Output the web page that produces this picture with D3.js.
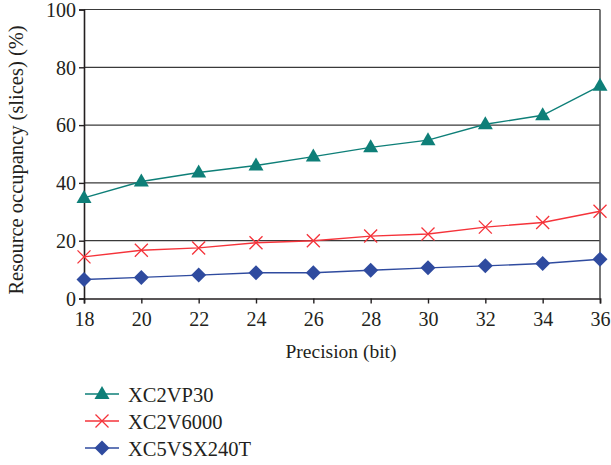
<!DOCTYPE html>
<html>
<head>
<meta charset="utf-8">
<script src="https://cdn.jsdelivr.net/npm/d3@7"></script>
<style>
  body { margin: 0; background: #fff; }
  svg { display: block; }
</style>
</head>
<body>
<svg id="chart" width="611" height="465"></svg>
<script>
// Precision (bit) on the x axis
const precision = [18, 20, 22, 24, 26, 28, 30, 32, 34, 36];

// Slice occupancy (%) per device
const xc2vp30 = [34.8, 40.5, 43.6, 46.0, 49.1, 52.3, 54.8, 60.3, 63.4, 73.6];
const xc2v6000 = [14.4, 16.7, 17.5, 19.3, 20.0, 21.6, 22.3, 24.7, 26.3, 30.2];
const xc5vsx240t = [6.6, 7.3, 8.1, 8.9, 8.9, 9.8, 10.6, 11.3, 12.1, 13.6];

const xTicks = [18, 20, 22, 24, 26, 28, 30, 32, 34, 36];
const yTicks = [0, 20, 40, 60, 80, 100];

const seriesNames = ["XC2VP30", "XC2V6000", "XC5VSX240T"];
const seriesValues = [xc2vp30, xc2v6000, xc5vsx240t];
const seriesColors = ["#0e7f78", "#f5333a", "#2f4b9f"];
const seriesMarkers = ["triangle", "cross", "diamond"];

const FONT = '"Liberation Serif"';
const INK = "#231f20";

const svg = d3.select("#chart");
const margin = { left: 84, right: 11, top: 9.5, bottom: 166.5 };
const W = 611, H = 465;
const x = d3.scaleLinear().domain([18, 36]).range([margin.left, W - margin.right]);
const y = d3.scaleLinear().domain([0, 100]).range([H - margin.bottom, margin.top]);

// Horizontal gridlines
svg.append("g").selectAll("line")
  .data(yTicks.filter(v => v > 0))
  .join("line")
  .attr("x1", x(18)).attr("x2", x(36))
  .attr("y1", d => y(d)).attr("y2", d => y(d))
  .attr("stroke", "#3a3a3a").attr("stroke-width", 1.2);

// Right border
svg.append("line")
  .attr("x1", x(36)).attr("x2", x(36))
  .attr("y1", y(100)).attr("y2", y(0))
  .attr("stroke", "#555").attr("stroke-width", 1.6);

// Axes
const xAxis = d3.axisBottom(x).tickValues(xTicks).tickSize(5).tickPadding(4).tickFormat(d3.format("d"));
const yAxis = d3.axisLeft(y).tickValues(yTicks).tickSize(5).tickPadding(3).tickFormat(d3.format("d"));

const gx = svg.append("g").attr("transform", `translate(0,${y(0)})`).call(xAxis);
const gy = svg.append("g").attr("transform", `translate(${x(18)},0)`).call(yAxis);
[gx, gy].forEach(g => {
  g.select(".domain").attr("stroke", INK).attr("stroke-width", 1.6);
  g.selectAll(".tick line").attr("stroke", INK).attr("stroke-width", 1.4);
  g.selectAll(".tick text")
    .style("font-family", FONT).style("font-size", "20px").attr("fill", INK);
});
gy.selectAll(".tick text").attr("dy", "0.34em");
gx.selectAll(".tick text").attr("dy", "0.9em");

// Axis titles
svg.append("text")
  .attr("x", (x(18) + x(36)) / 2 - 1).attr("y", 358)
  .attr("text-anchor", "middle")
  .style("font-family", FONT).style("font-size", "19.5px").attr("fill", INK)
  .text("Precision (bit)");

svg.append("text")
  .attr("transform", `translate(23,${(y(0) + y(100)) / 2 + 6}) rotate(-90)`)
  .attr("text-anchor", "middle")
  .style("font-family", FONT).style("font-size", "20.5px").attr("fill", INK)
  .text("Resource occupancy (slices) (%)");

// Marker drawing
function drawMarker(g, type, color, cx, cy) {
  if (type === "triangle") {
    g.append("path")
      .attr("d", `M${cx},${cy - 8} L${cx + 7.5},${cy + 5} L${cx - 7.5},${cy + 5} Z`)
      .attr("fill", color);
  } else if (type === "diamond") {
    g.append("path")
      .attr("d", `M${cx},${cy - 7.5} L${cx + 7.5},${cy} L${cx},${cy + 7.5} L${cx - 7.5},${cy} Z`)
      .attr("fill", color);
  } else {
    const s = 6.5;
    g.append("path")
      .attr("d", `M${cx - s},${cy - s} L${cx + s},${cy + s} M${cx - s},${cy + s} L${cx + s},${cy - s}`)
      .attr("stroke", color).attr("stroke-width", 1.3).attr("fill", "none");
  }
}

const line = d3.line().x(d => x(d[0])).y(d => y(d[1]));

seriesValues.forEach((vals, i) => {
  const pts = precision.map((p, j) => [p, vals[j]]);
  const g = svg.append("g");
  g.append("path")
    .attr("d", line(pts))
    .attr("fill", "none")
    .attr("stroke", seriesColors[i])
    .attr("stroke-width", 1.4);
  pts.forEach(p => drawMarker(g, seriesMarkers[i], seriesColors[i], x(p[0]), y(p[1])));
});

// Legend
const legendY = [394, 421, 448];
seriesNames.forEach((name, i) => {
  const g = svg.append("g");
  g.append("line")
    .attr("x1", 85).attr("x2", 119)
    .attr("y1", legendY[i]).attr("y2", legendY[i])
    .attr("stroke", seriesColors[i]).attr("stroke-width", 1.4);
  drawMarker(g, seriesMarkers[i], seriesColors[i], 102, legendY[i]);
  g.append("text")
    .attr("x", 128).attr("y", legendY[i] + 7.5)
    .style("font-family", FONT).style("font-size", "20.5px").attr("fill", INK)
    .text(name);
});
</script>
</body>
</html>
